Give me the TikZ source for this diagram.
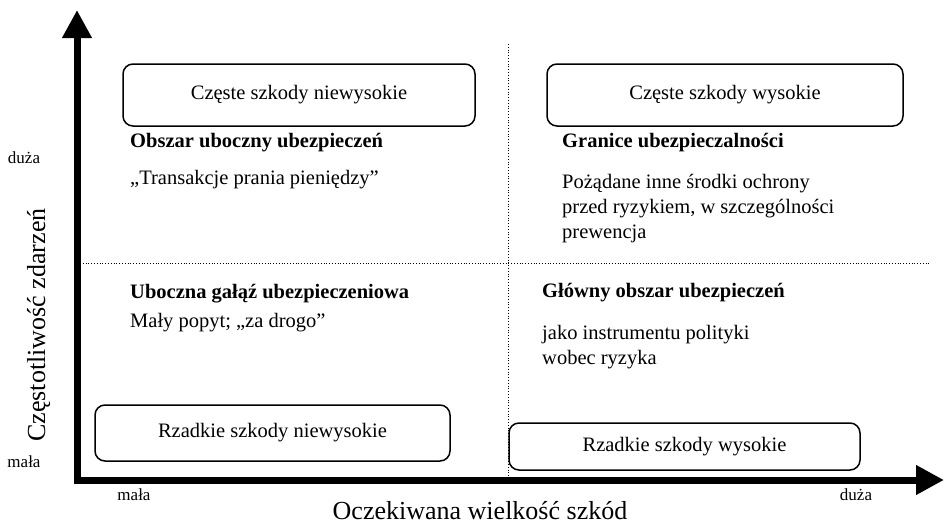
\documentclass[tikz,border=0pt]{standalone}
\usepackage{fontspec}
\setmainfont{Liberation Serif}
\usetikzlibrary{arrows.meta}
\begin{document}
\begin{tikzpicture}[x=1pt,y=-1pt,
  box/.style={draw, line width=1.5pt, rounded corners=10pt, inner sep=0pt,
    font=\fontsize{20.5}{25}\selectfont},
  body/.style={anchor=base west, inner sep=0pt, align=left,
    font=\fontsize{20.5}{25}\selectfont},
  head/.style={anchor=base west, inner sep=0pt,
    font=\fontsize{20.5}{25}\selectfont\bfseries},
  axislab/.style={inner sep=0pt, font=\fontsize{17}{20}\selectfont},
  axistitle/.style={inner sep=0pt, anchor=base, font=\fontsize{26}{30}\selectfont},
  axisline/.style={line width=7pt, -{Triangle[length=28pt,width=28pt]}},
  gridline/.style={dotted, line width=0.8pt}]
\useasboundingbox (0,0) rectangle (944,525);

% grid
\coordinate (vt) at (508,44);
\coordinate (vb) at (508,480);
\coordinate (hl) at (80,263);
\coordinate (hr) at (930,263);
\draw[gridline] (vt) -- (vb);
\draw[gridline] (hl) -- (hr);

% axes
\coordinate (ystart) at (77,483.5);
\coordinate (ytip) at (77,10);
\coordinate (xstart) at (73.5,480);
\coordinate (xtip) at (944,480);
\draw[axisline] (ystart) -- (ytip);
\draw[axisline] (xstart) -- (xtip);

% boxes
\node[box, minimum width=352pt, minimum height=62pt] (b1) at (299,95) {Częste szkody niewysokie};
\node[box, minimum width=356pt, minimum height=62pt] (b2) at (725,95) {Częste szkody wysokie};
\node[box, minimum width=355pt, minimum height=56pt] (b3) at (272.5,433) {Rzadkie szkody niewysokie};
\node[box, minimum width=351pt, minimum height=47pt] (b4) at (684.5,446.5) {Rzadkie szkody wysokie};

% quadrant texts
\node[head] (h1) at (130,147) {Obszar uboczny ubezpieczeń};
\node[body] (t1) at (130,184) {„Transakcje prania pieniędzy”};
\node[head] (h2) at (562,147) {Granice ubezpieczalności};
\node[body] (t2) at (562,238) {Pożądane inne środki ochrony\\przed ryzykiem, w szczególności\\prewencja};
\node[head] (h3) at (130,298) {Uboczna gałąź ubezpieczeniowa};
\node[body] (t3) at (130,327) {Mały popyt; „za drogo”};
\node[head] (h4) at (542,297) {Główny obszar ubezpieczeń};
\node[body] (t4) at (542,364) {jako instrumentu polityki\\wobec ryzyka};

% axis labels
\node[axislab] (yhi) at (24,158) {duża};
\node[axislab] (ylo) at (24,462) {mała};
\node[axislab] (xlo) at (134,495) {mała};
\node[axislab] (xhi) at (856,495) {duża};
\node[axistitle, rotate=90] (ytitle) at (45,325) {Częstotliwość zdarzeń};
\node[axistitle] (xtitle) at (480,519) {Oczekiwana wielkość szkód};
\end{tikzpicture}
\end{document}
